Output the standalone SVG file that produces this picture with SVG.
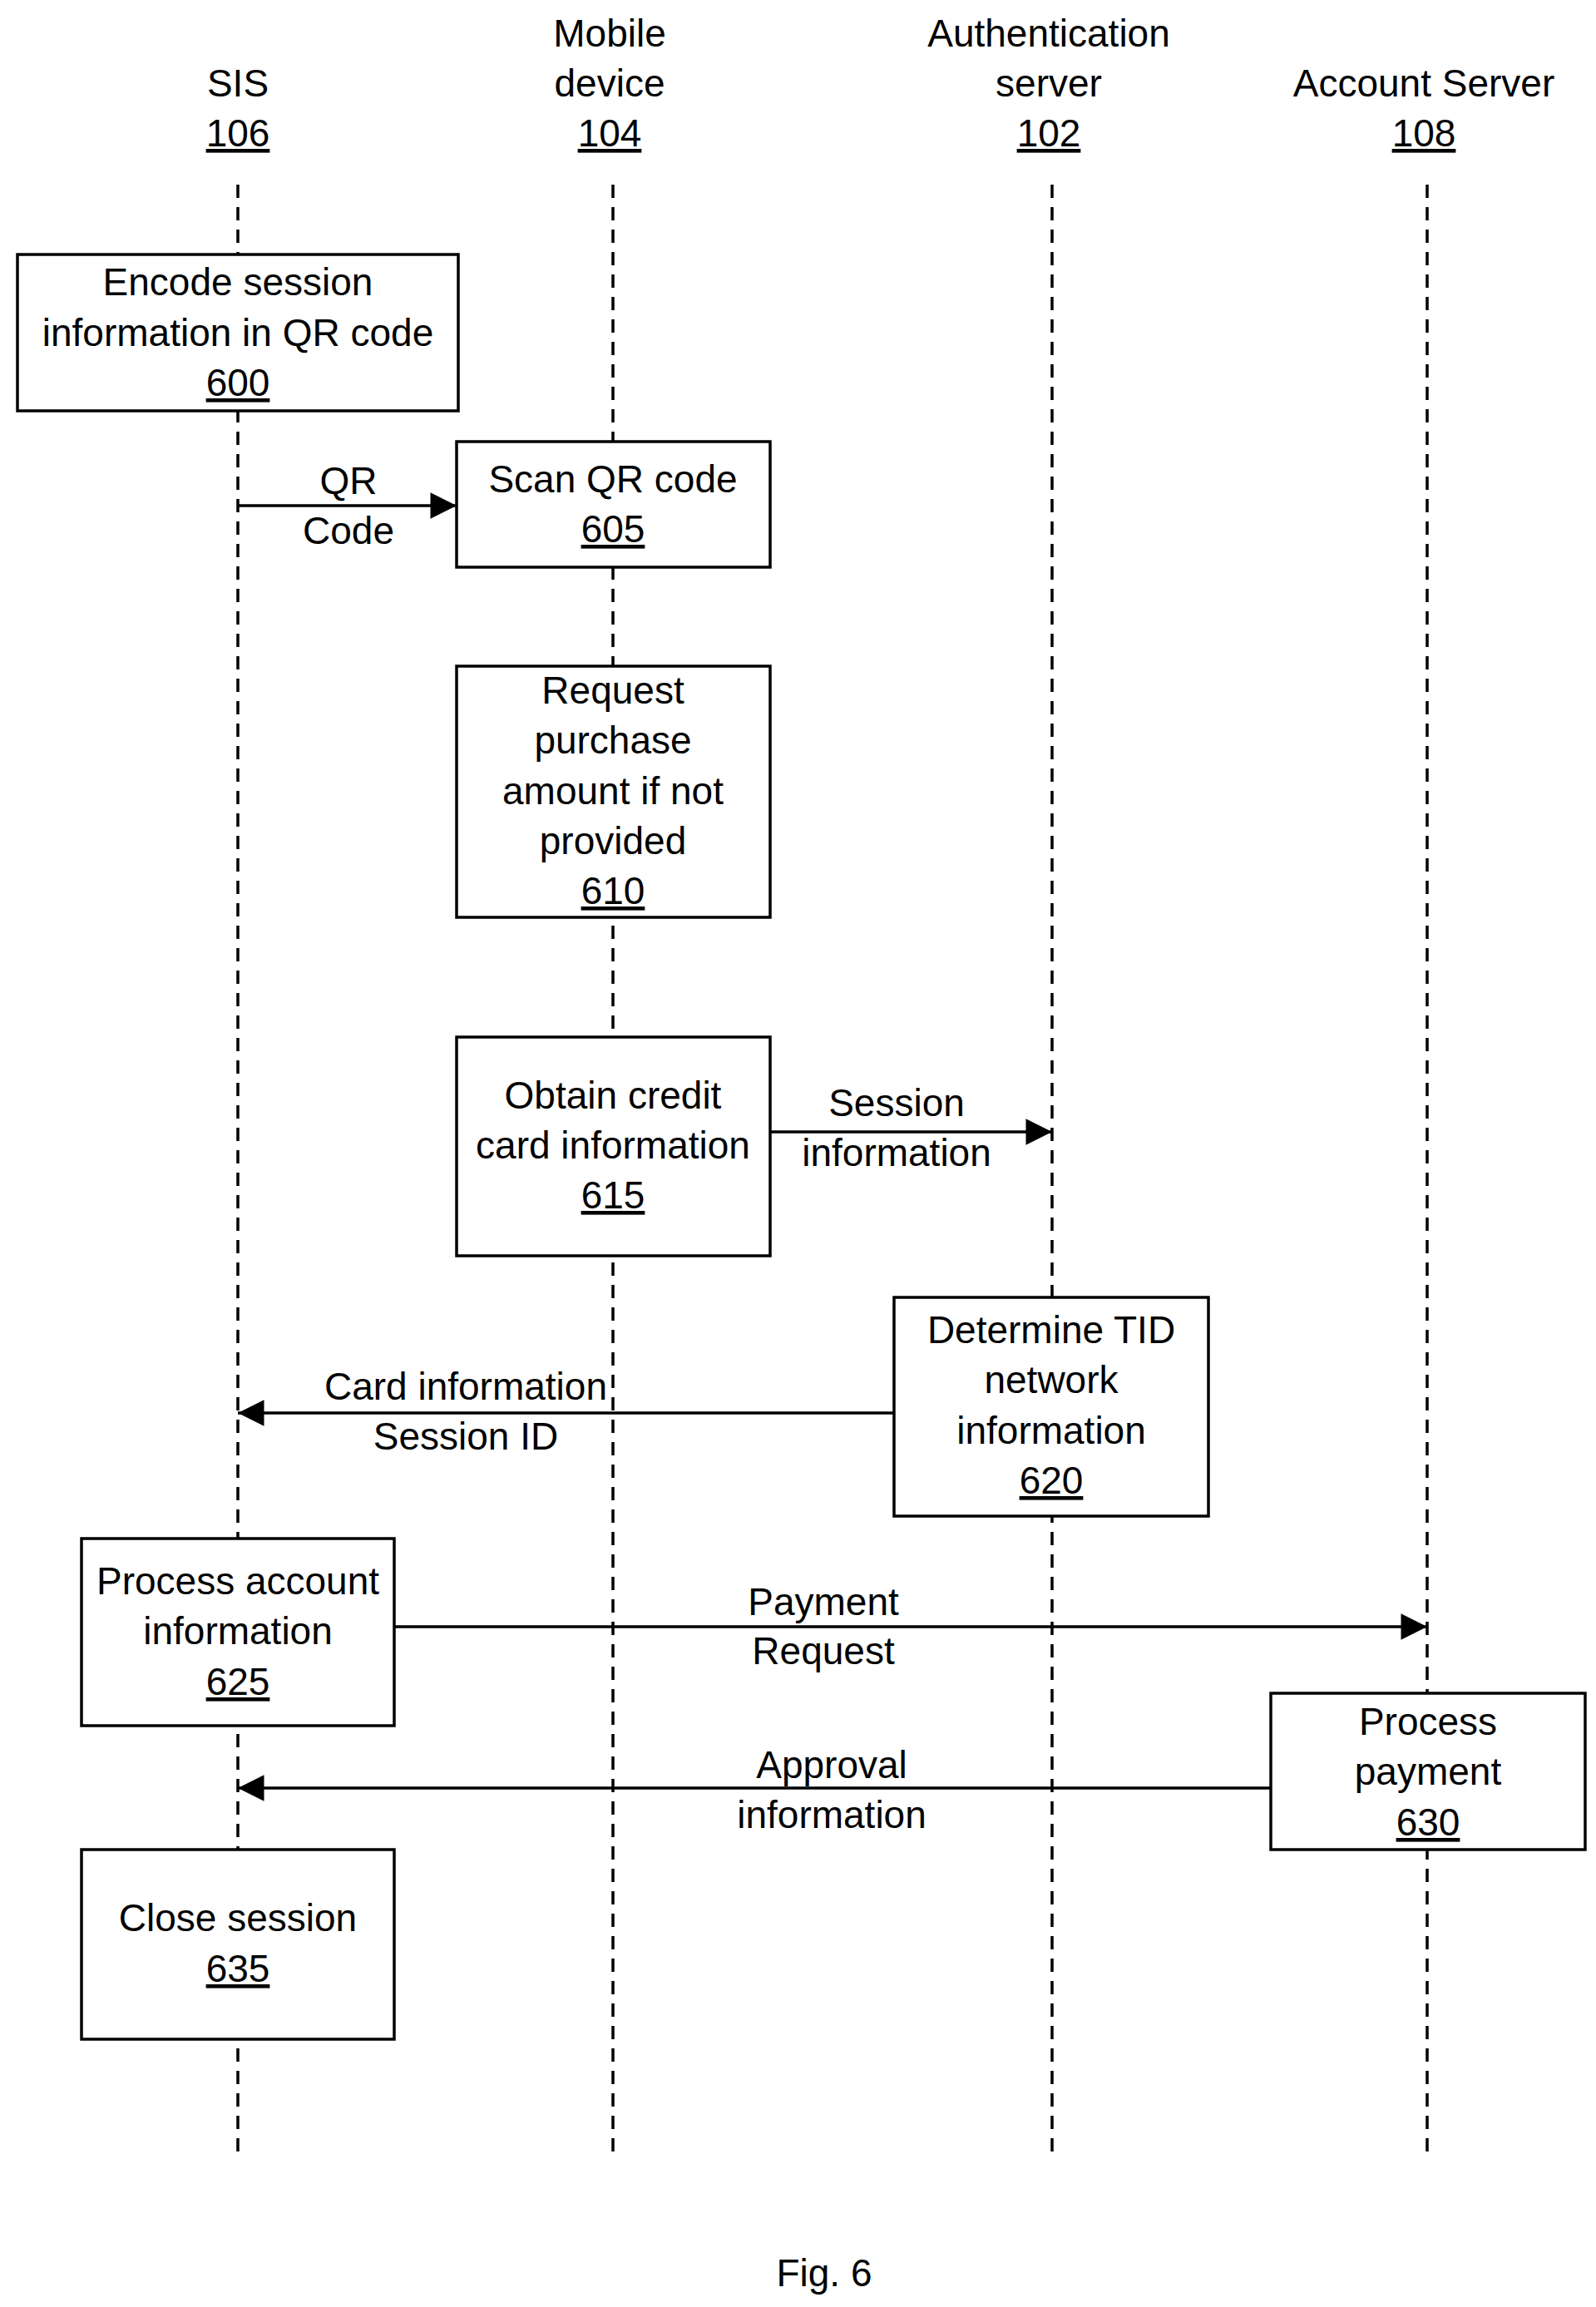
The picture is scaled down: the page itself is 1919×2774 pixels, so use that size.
<svg xmlns="http://www.w3.org/2000/svg" width="1919" height="2774" viewBox="0 0 1919 2774">
<style>
text{font-family:"Liberation Sans",Arial,sans-serif;font-size:46px;fill:#000;text-anchor:middle}
.u{text-decoration:underline}
.life{stroke:#000;stroke-width:3.5;stroke-dasharray:16,11;fill:none}
.box{fill:#fff;stroke:#000;stroke-width:3.5}
.arr{stroke:#000;stroke-width:3.5;fill:none;marker-end:url(#ah)}
</style>
<defs><marker id="ah" viewBox="0 0 10 10" refX="10" refY="5" markerWidth="11" markerHeight="9" markerUnits="strokeWidth" orient="auto"><path d="M0,0L10,5L0,10z" fill="#000"/></marker></defs>
<rect width="1919" height="2774" fill="#fff"/>
<g id="headers">
<text x="286" y="116">SIS</text><text x="286" y="176" class="u">106</text>
<text x="733" y="56">Mobile</text><text x="733" y="116">device</text><text x="733" y="176" class="u">104</text>
<text x="1261" y="56">Authentication</text><text x="1261" y="116">server</text><text x="1261" y="176" class="u">102</text>
<text x="1712" y="116">Account Server</text><text x="1712" y="176" class="u">108</text>
</g>
<g id="lifelines">
<line class="life" x1="286" y1="222" x2="286" y2="2594"/>
<line class="life" x1="737" y1="222" x2="737" y2="2594"/>
<line class="life" x1="1265" y1="222" x2="1265" y2="2594"/>
<line class="life" x1="1716" y1="222" x2="1716" y2="2594"/>
</g>
<g id="connectors">
<line class="arr" x1="286" y1="608" x2="549" y2="608"/>
<line class="arr" x1="926" y1="1361" x2="1265" y2="1361"/>
<line class="arr" x1="1075" y1="1699" x2="286" y2="1699"/>
<line class="arr" x1="474" y1="1956" x2="1716" y2="1956"/>
<line class="arr" x1="1528" y1="2150" x2="286" y2="2150"/>
<text x="419" y="594">QR</text><text x="419" y="654">Code</text>
<text x="1078" y="1342">Session</text><text x="1078" y="1402">information</text>
<text x="560" y="1683">Card information</text><text x="560" y="1743">Session ID</text>
<text x="990" y="1942">Payment</text><text x="990" y="2001">Request</text>
<text x="1000" y="2138">Approval</text><text x="1000" y="2198">information</text>
</g>
<g id="n600"><rect class="box" x="21" y="306" width="530" height="188"/>
<text x="286" y="355">Encode session</text><text x="286" y="416">information in QR code</text><text x="286" y="476" class="u">600</text></g>
<g id="n605"><rect class="box" x="549" y="531" width="377" height="151"/>
<text x="737" y="592">Scan QR code</text><text x="737" y="652" class="u">605</text></g>
<g id="n610"><rect class="box" x="549" y="801" width="377" height="302"/>
<text x="737" y="846">Request</text><text x="737" y="906">purchase</text><text x="737" y="967">amount if not</text><text x="737" y="1027">provided</text><text x="737" y="1087" class="u">610</text></g>
<g id="n615"><rect class="box" x="549" y="1247" width="377" height="263"/>
<text x="737" y="1333">Obtain credit</text><text x="737" y="1393">card information</text><text x="737" y="1453" class="u">615</text></g>
<g id="n620"><rect class="box" x="1075" y="1560" width="378" height="263"/>
<text x="1264" y="1615">Determine TID</text><text x="1264" y="1675">network</text><text x="1264" y="1736">information</text><text x="1264" y="1796" class="u">620</text></g>
<g id="n625"><rect class="box" x="98" y="1850" width="376" height="225"/>
<text x="286" y="1917">Process account</text><text x="286" y="1977">information</text><text x="286" y="2038" class="u">625</text></g>
<g id="n630"><rect class="box" x="1528" y="2036" width="378" height="188"/>
<text x="1717" y="2086">Process</text><text x="1717" y="2146">payment</text><text x="1717" y="2207" class="u">630</text></g>
<g id="n635"><rect class="box" x="98" y="2224" width="376" height="228"/>
<text x="286" y="2322">Close session</text><text x="286" y="2383" class="u">635</text></g>
<text x="991" y="2749">Fig. 6</text>
</svg>
